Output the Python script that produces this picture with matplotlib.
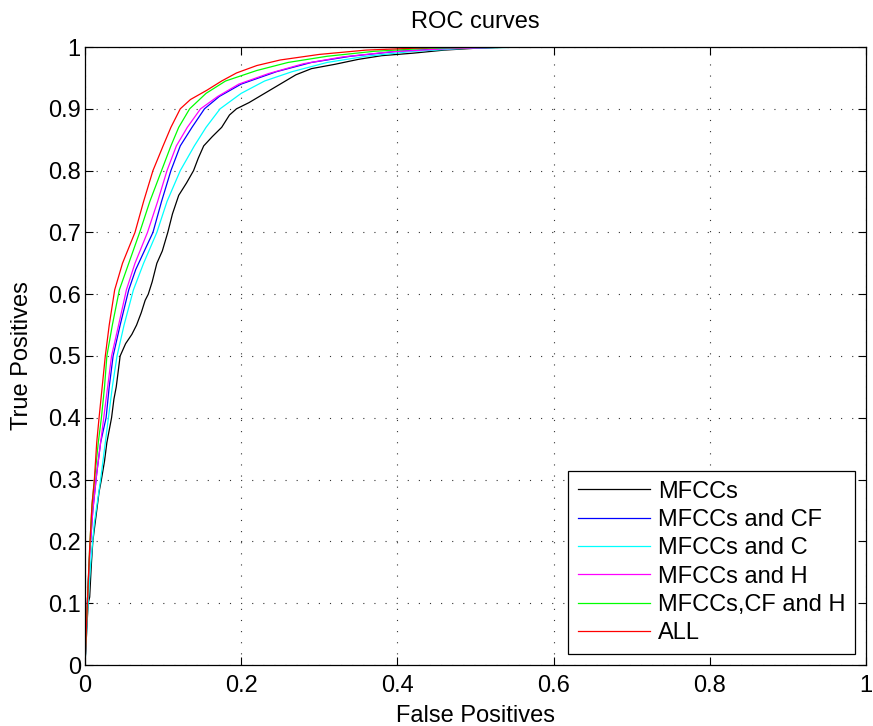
import matplotlib
matplotlib.use("Agg")
import matplotlib.pyplot as plt

plt.rcParams['font.family'] = ['Liberation Sans', 'DejaVu Sans']
plt.rcParams['lines.scale_dashes'] = False

labels = ["MFCCs", "MFCCs and CF", "MFCCs and C", "MFCCs and H", "MFCCs,CF and H", "ALL"]
colors = ["black", "blue", "cyan", "magenta", "#00ff00", "red"]

fpr_mfcc = [0, 0.002, 0.004, 0.006, 0.008, 0.01, 0.014, 0.018, 0.021, 0.025, 0.028, 0.031, 0.034, 0.037,
            0.04, 0.042, 0.045, 0.052, 0.06, 0.066, 0.072, 0.077, 0.081, 0.086, 0.092, 0.099, 0.106, 0.112,
            0.12, 0.13, 0.139, 0.145, 0.152, 0.163, 0.175, 0.185, 0.194, 0.21, 0.23, 0.25, 0.27, 0.29, 0.32,
            0.35, 0.38, 0.42, 0.46, 0.5, 0.55, 1.0]
tpr_mfcc = [0, 0.05, 0.1, 0.11, 0.16, 0.2, 0.24, 0.28, 0.30, 0.33, 0.36, 0.38, 0.40, 0.43,
            0.45, 0.47, 0.50, 0.52, 0.535, 0.55, 0.57, 0.59, 0.60, 0.62, 0.65, 0.67, 0.70, 0.73,
            0.76, 0.78, 0.80, 0.82, 0.84, 0.855, 0.87, 0.89, 0.90, 0.91, 0.925, 0.94, 0.955, 0.965, 0.972,
            0.98, 0.986, 0.99, 0.995, 0.998, 1.0, 1.0]

fpr_cf = [0, 0.003, 0.006, 0.01, 0.015, 0.02, 0.027, 0.031, 0.036, 0.045, 0.056, 0.065, 0.076, 0.087,
          0.098, 0.11, 0.122, 0.137, 0.153, 0.172, 0.2, 0.245, 0.29, 0.34, 0.4, 0.47, 0.55, 1.0]
tpr_cf = [0, 0.1, 0.18, 0.25, 0.31, 0.36, 0.40, 0.45, 0.50, 0.55, 0.607, 0.64, 0.67, 0.70,
          0.75, 0.80, 0.84, 0.87, 0.90, 0.92, 0.94, 0.96, 0.975, 0.985, 0.993, 0.998, 1.0, 1.0]

fpr_c = [0, 0.003, 0.007, 0.012, 0.02, 0.025, 0.03, 0.035, 0.041, 0.05, 0.062, 0.075, 0.092, 0.105,
         0.122, 0.14, 0.155, 0.173, 0.2, 0.23, 0.265, 0.31, 0.36, 0.42, 0.49, 0.57, 1.0]
tpr_c = [0, 0.08, 0.16, 0.23, 0.30, 0.35, 0.40, 0.45, 0.50, 0.55, 0.607, 0.65, 0.70, 0.75,
         0.80, 0.84, 0.87, 0.90, 0.925, 0.945, 0.96, 0.975, 0.985, 0.993, 0.998, 1.0, 1.0]

fpr_h = [0, 0.003, 0.006, 0.01, 0.015, 0.019, 0.024, 0.029, 0.034, 0.043, 0.053, 0.064, 0.080, 0.093,
         0.105, 0.117, 0.131, 0.148, 0.17, 0.197, 0.235, 0.28, 0.33, 0.39, 0.46, 0.54, 1.0]
tpr_h = [0, 0.1, 0.18, 0.25, 0.31, 0.35, 0.40, 0.45, 0.50, 0.55, 0.607, 0.65, 0.70, 0.75,
         0.80, 0.84, 0.87, 0.90, 0.92, 0.94, 0.957, 0.973, 0.984, 0.992, 0.997, 1.0, 1.0]

fpr_cfh = [0, 0.003, 0.006, 0.009, 0.013, 0.017, 0.021, 0.025, 0.028, 0.035, 0.044, 0.056, 0.070, 0.083,
           0.098, 0.11, 0.12, 0.134, 0.155, 0.18, 0.22, 0.26, 0.31, 0.37, 0.44, 0.52, 1.0]
tpr_cfh = [0, 0.1, 0.19, 0.26, 0.31, 0.36, 0.40, 0.45, 0.50, 0.55, 0.607, 0.65, 0.70, 0.75,
           0.80, 0.84, 0.87, 0.90, 0.925, 0.945, 0.962, 0.975, 0.985, 0.993, 0.998, 1.0, 1.0]

fpr_all = [0, 0.003, 0.006, 0.009, 0.012, 0.015, 0.018, 0.022, 0.026, 0.031, 0.038, 0.048, 0.064, 0.075,
           0.087, 0.10, 0.11, 0.122, 0.135, 0.156, 0.175, 0.194, 0.22, 0.25, 0.3, 0.36, 0.42, 0.47, 1.0]
tpr_all = [0, 0.1, 0.19, 0.26, 0.30, 0.36, 0.40, 0.45, 0.50, 0.55, 0.607, 0.65, 0.70, 0.75,
           0.80, 0.84, 0.87, 0.90, 0.915, 0.93, 0.945, 0.958, 0.97, 0.979, 0.988, 0.995, 0.998, 1.0, 1.0]

curves = [(fpr_mfcc, tpr_mfcc), (fpr_cf, tpr_cf), (fpr_c, tpr_c),
          (fpr_h, tpr_h), (fpr_cfh, tpr_cfh), (fpr_all, tpr_all)]

xticks = [0, 0.2, 0.4, 0.6, 0.8, 1]
xticklabels = ["0", "0.2", "0.4", "0.6", "0.8", "1"]
yticks = [0, 0.1, 0.2, 0.3, 0.4, 0.5, 0.6, 0.7, 0.8, 0.9, 1]
yticklabels = ["0", "0.1", "0.2", "0.3", "0.4", "0.5", "0.6", "0.7", "0.8", "0.9", "1"]

FS = 17

fig = plt.figure(figsize=(8.73, 7.26), dpi=100)
ax = fig.add_axes([85/873, 1 - 665/726, (866-85)/873, (665-47)/726])

for (x, y), c, lab in zip(curves, colors, labels):
    ax.plot(x, y, color=c, lw=0.9, label=lab)

ax.set_xlim(0, 1)
ax.set_ylim(0, 1)
ax.set_xticks(xticks)
ax.set_xticklabels(xticklabels)
ax.set_yticks(yticks)
ax.set_yticklabels(yticklabels)
ax.tick_params(direction='in', top=True, right=True, length=6, width=0.8, labelsize=FS)
ax.tick_params(axis='x', pad=7)
ax.tick_params(axis='y', pad=3)
ax.grid(True, color='#333333', linestyle=(0, (0.8, 7.2)), linewidth=0.8)
for s in ax.spines.values():
    s.set_linewidth(0.9)

ax.set_title("ROC curves", fontsize=FS, pad=14)
ax.set_xlabel("False Positives", fontsize=FS, labelpad=6)
ax.set_ylabel("True Positives", fontsize=FS, labelpad=11)

leg = ax.legend(loc='lower right', fontsize=FS, handlelength=3.05, handletextpad=0.35,
                borderpad=0.42, labelspacing=0.27, fancybox=False, framealpha=1,
                edgecolor='black', borderaxespad=0.45)
leg.get_frame().set_linewidth(0.9)

fig.savefig("out.png", dpi=100)
